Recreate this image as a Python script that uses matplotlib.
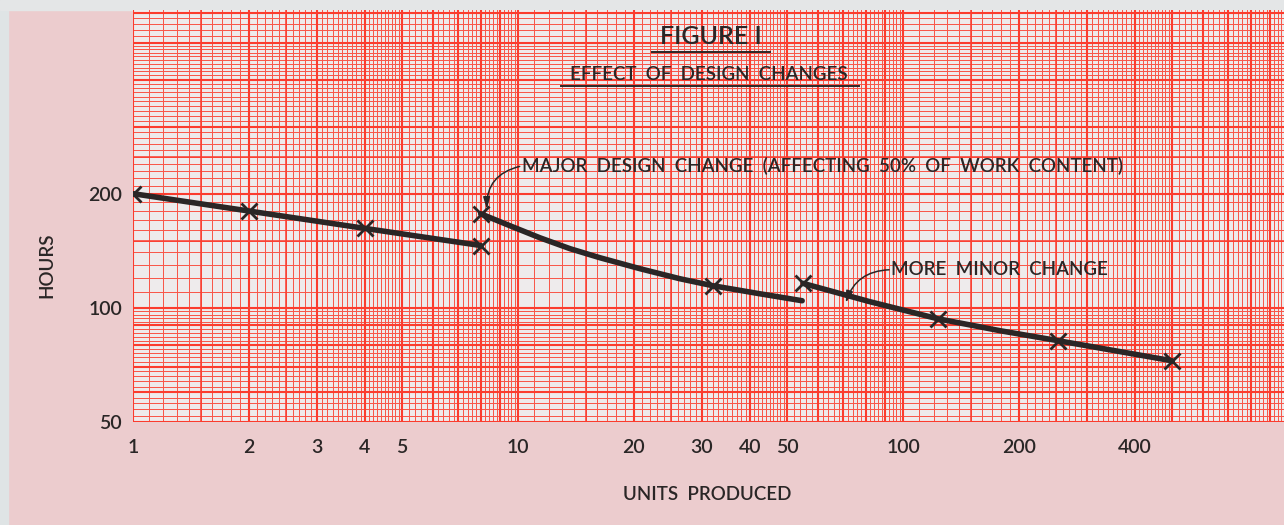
import numpy as np
import matplotlib.pyplot as plt
from matplotlib.lines import Line2D
from matplotlib.patches import Rectangle

plt.rcParams['font.family'] = ['Lato', 'DejaVu Sans']
plt.rcParams['font.weight'] = 'semibold'

# 1. Data: hours per unit, three learning-curve runs split by design changes
units_a = [1, 2, 4, 8]
hours_a = [200, 180, 162, 146]

units_b = [8, 9.53, 11.4, 13.65, 16.3, 20.75, 26.35, 32, 42.5, 54.7]
hours_b = [177, 164.6, 153, 143.2, 135.6, 126.8, 119.3, 114.4, 108.9, 104.4]
marks_b = [0, 7]  # crossed points on the second run

units_c = [55, 82, 123, 179, 253, 500]
hours_c = [116, 103.8, 93.6, 87, 81.9, 72.5]
marks_c = [0, 2, 4, 5]

x_ticks = [1, 2, 3, 4, 5, 10, 20, 30, 40, 50, 100, 200, 400]
y_ticks = [50, 100, 200]

ink = '#2a2626'
red = '#fb3c2e'
W, H = 1284, 525

# 2. Figure and paper
fig = plt.figure(figsize=(W / 100, H / 100), dpi=100)
fig.patch.set_facecolor('#ecccce')
fig.add_artist(Rectangle((0, 0), 8 / W, 1, transform=fig.transFigure,
                         color='#dfe4e5', zorder=0))
fig.add_artist(Rectangle((0, 1 - 10 / H), 1, 10 / H, transform=fig.transFigure,
                         color='#e4e6e7', zorder=0))

ax = fig.add_axes([133 / W, 103 / H, 1151 / W, 412 / H])
ax.set_facecolor('#eeebec')
ax.set_xscale('log')
ax.set_yscale('log')
ax.set_xlim(1, 976)
ax.set_ylim(50, 610)
for s in ax.spines.values():
    s.set_visible(False)


# log paper rulings: fine lines, half lines and whole-number lines per decade
def rulings(lo, hi):
    fine, half, whole = [], [], []
    for k in range(-1, 4):
        d = 10.0 ** k
        for v in np.arange(1.1, 5.0, 0.1):
            fine.append(v * d)
        for v in np.arange(5.2, 10.0, 0.2):
            fine.append(v * d)
        half.append(1.5 * d)
        half.append(2.5 * d)
        for v in range(1, 10):
            whole.append(v * d)
    keep = lambda vals: [v for v in vals if lo <= v <= hi]
    return keep(fine), keep(half), keep(whole)


xf, xh, xw = rulings(1, 976)
yf, yh, yw = rulings(50, 610)
fine_kw = dict(color='#f8584b', lw=0.7, antialiased=False, zorder=1)
ax.vlines(xf, 50, 610, **fine_kw)
ax.hlines(yf, 1, 976, **fine_kw)
ax.vlines(xh, 50, 610, color=red, lw=1.1, zorder=1)
ax.hlines(yh, 1, 976, color=red, lw=1.1, zorder=1)
ax.vlines(xw, 50, 610, color=red, lw=1.5, zorder=1)
ax.hlines(yw, 1, 976, color=red, lw=1.5, zorder=1)

# 3. Curves
line_kw = dict(color=ink, lw=4, solid_capstyle='round', solid_joinstyle='round',
               zorder=3)
mark_kw = dict(color=ink, ls='none', marker='x', ms=11, mew=2, zorder=4)
ax.plot(units_a, hours_a, **line_kw)
ax.plot(units_a, hours_a, **mark_kw)
ax.plot(units_b, hours_b, **line_kw)
ax.plot([units_b[i] for i in marks_b], [hours_b[i] for i in marks_b], **mark_kw)
ax.plot(units_c, hours_c, **line_kw)
ax.plot([units_c[i] for i in marks_c], [hours_c[i] for i in marks_c], **mark_kw)

# 4. Notes with arrows
arrow = dict(arrowstyle='-|>,head_length=0.7,head_width=0.2', color=ink, lw=1.1,
             shrinkA=0, shrinkB=0)
ax.annotate('', xy=(8.3, 182), xytext=(10.1, 236),
            arrowprops=dict(connectionstyle='arc3,rad=0.4', **arrow), zorder=5)
ax.text(10.25, 236, 'MAJOR  DESIGN  CHANGE  (AFFECTING  50%  OF  WORK  CONTENT)',
        fontsize=13.5, color=ink, ha='left', va='center', zorder=5)
ax.annotate('', xy=(71, 103), xytext=(92, 126),
            arrowprops=dict(connectionstyle='arc3,rad=0.35', **arrow), zorder=5)
ax.text(93, 126, 'MORE  MINOR  CHANGE', fontsize=13.5, color=ink,
        ha='left', va='center', zorder=5)

# 5. Titles and axis text
fig.text(711 / W, 1 - 37 / H, 'FIGURE I', fontsize=18, color=ink,
         ha='center', va='center')
fig.add_artist(Line2D([652 / W, 770 / W], [1 - 52 / H] * 2, color=ink, lw=1.4))
fig.text(709 / W, 1 - 74 / H, 'EFFECT  OF  DESIGN  CHANGES', fontsize=13.5,
         color=ink, ha='center', va='center')
fig.add_artist(Line2D([561 / W, 859 / W], [1 - 86 / H] * 2, color=ink, lw=1.4))

ax.set_xticks(x_ticks)
ax.set_xticklabels([str(v) for v in x_ticks])
ax.set_yticks(y_ticks)
ax.set_yticklabels([str(v) for v in y_ticks])
ax.xaxis.set_minor_locator(plt.NullLocator())
ax.yaxis.set_minor_locator(plt.NullLocator())
ax.tick_params(length=0, labelsize=14, colors=ink)
ax.tick_params(axis='x', pad=12)
ax.tick_params(axis='y', pad=8)

fig.text(707 / W, 1 - 494 / H, 'UNITS  PRODUCED', fontsize=13.5, color=ink,
         ha='center', va='center')
fig.text(47 / W, 1 - 265 / H, 'HOURS', fontsize=13.5, color=ink, rotation=90,
         ha='center', va='center')

fig.savefig('out.png', dpi=100, facecolor=fig.get_facecolor())
